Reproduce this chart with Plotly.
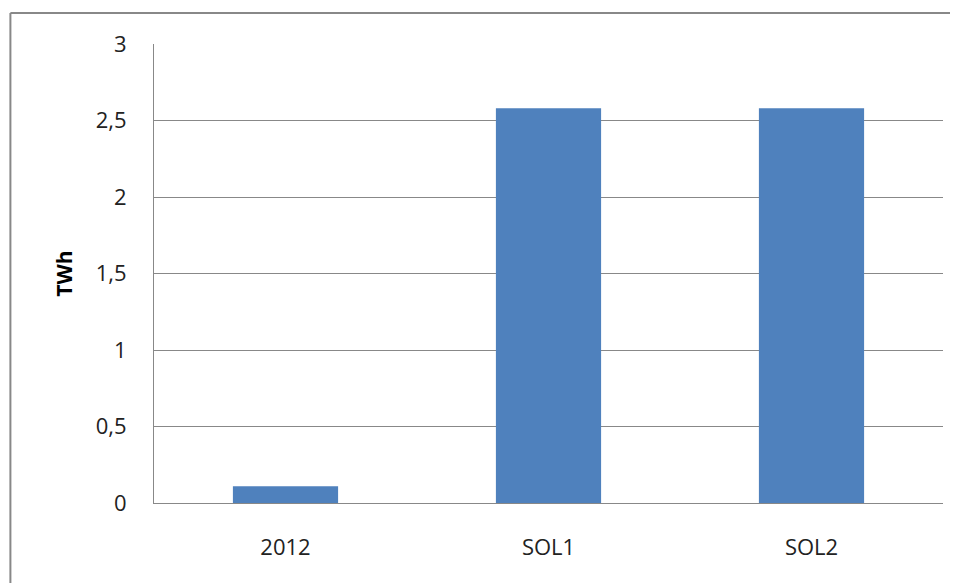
import plotly.graph_objects as go

categories = ["2012", "SOL1", "SOL2"]
values = [0.11, 2.58, 2.58]
y_ticks = [0, 0.5, 1, 1.5, 2, 2.5, 3]

fig = go.Figure()
fig.add_trace(go.Bar(x=categories, y=values, marker=dict(color="#4F81BD", line=dict(width=0)),
                     hoverinfo="skip"))

font_family = "Open Sans, Liberation Sans, sans-serif"
border = dict(color="#888888", width=2)

fig.update_layout(
    width=958, height=583,
    margin=dict(l=146, r=23, t=36, b=88),
    paper_bgcolor="white", plot_bgcolor="white",
    separators=", ",
    bargap=0.6,
    showlegend=False,
    font=dict(family=font_family, size=22, color="#222222"),
    xaxis=dict(showgrid=False, showline=True, linecolor="#888888", linewidth=1,
               ticks="", ticklabelstandoff=25, tickfont=dict(size=22)),
    yaxis=dict(range=[0, 3], tickvals=y_ticks, showgrid=True, gridcolor="#888888", gridwidth=1,
               showline=True, linecolor="#888888", linewidth=1, zeroline=False,
               ticks="", ticklabelstandoff=22, tickfont=dict(size=22),
               title=dict(text="<b>TWh</b>", font=dict(size=21, color="#000000"), standoff=17)),
    shapes=[
        dict(type="line", xref="paper", yref="paper", x0=-0.182, x1=1.5, y0=1.0675, y1=1.0675,
             line=border, layer="below"),
        dict(type="line", xref="paper", yref="paper", x0=-0.182, x1=-0.182, y0=-0.5, y1=1.0675,
             line=border, layer="below"),
    ],
)

fig.write_html("out.html")
